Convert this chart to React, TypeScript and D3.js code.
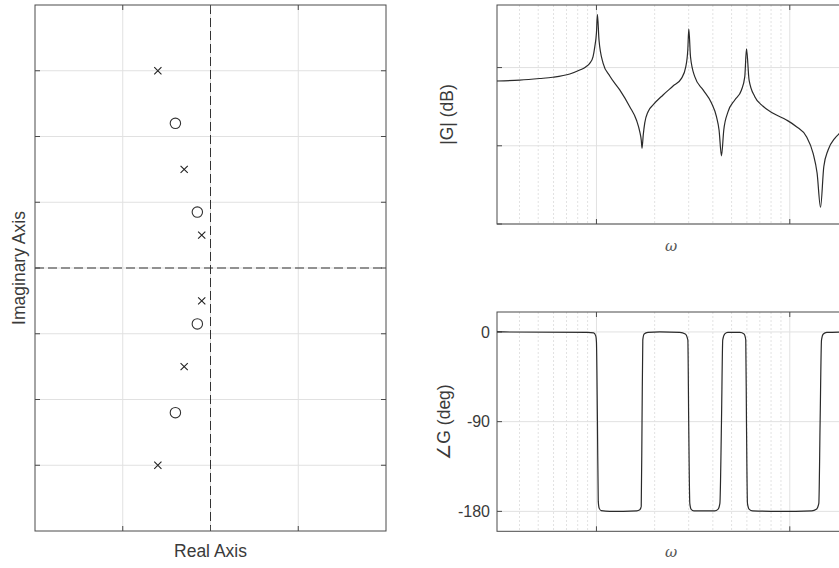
import React from 'react';
import * as d3 from 'd3';

// pole-zero map
const poleRe = [-0.6, -0.3, -0.1, -0.1, -0.3, -0.6];
const poleIm = [3.0, 1.5, 0.5, -0.5, -1.5, -3.0];
const zeroRe = [-0.4, -0.15, -0.15, -0.4];
const zeroIm = [2.2, 0.85, -0.85, -2.2];
const pzReTicks = [-1, 0, 1];
const pzImTicks = [-3, -2, -1, 0, 1, 2, 3];

// bode magnitude
const magOmega = [0.306, 0.401, 0.509, 0.594, 0.728, 0.82, 0.88, 0.923, 0.96, 0.98, 1.0, 1.012, 1.031, 1.082, 1.172, 1.32, 1.487, 1.61, 1.675, 1.705, 1.721, 1.746, 1.778, 1.849, 1.963, 2.211, 2.49, 2.753, 2.897, 2.968, 3.004, 3.065, 3.225, 3.561, 3.935, 4.176, 4.307, 4.433, 4.556, 4.795, 5.194, 5.626, 5.851, 5.971, 6.159, 6.592, 7.139, 8.196, 9.614, 10.83, 12.2, 13.2, 13.84, 14.42, 14.99, 15.78, 17.09, 17.93, 19.96];
const magDb = [-8.6, -8.0, -7.0, -6.2, -4.1, -1.6, 0.4, 2.7, 6.9, 13.1, 22.1, 34.0, 17.6, 2.9, -5.4, -14.3, -25.0, -33.5, -41.0, -46.3, -51.6, -43.1, -35.4, -28.2, -23.9, -17.5, -11.8, -6.9, 0.5, 11.2, 24.7, 6.9, -5.8, -14.3, -22.7, -31.4, -39.9, -56.4, -39.9, -28.2, -20.7, -14.3, -5.8, 11.9, -8.0, -18.6, -23.9, -29.2, -33.5, -37.8, -44.2, -54.8, -67.4, -89.3, -63.4, -52.7, -45.2, -42.5, -38.6];
const magTicks = [-100, -50, 0];

// bode phase
const phaseOmega = [0.306, 0.9, 0.968, 0.992, 1.0, 1.012, 1.022, 1.034, 1.059, 1.172, 1.616, 1.675, 1.705, 1.721, 1.737, 1.765, 1.846, 2.128, 2.7, 2.88, 2.97, 3.0, 3.04, 3.09, 3.19, 4.09, 4.25, 4.35, 4.433, 4.5, 4.61, 4.78, 5.52, 5.8, 5.92, 5.97, 6.04, 6.17, 6.42, 8.88, 13.0, 13.71, 14.13, 14.35, 14.59, 14.91, 15.53, 19.96];
const phaseDeg = [0, -0.5, -1, -4, -10, -90, -170, -177, -179.3, -180, -179.5, -178.5, -175, -90, -8, -2, -0.5, 0, -0.5, -2, -8, -90, -172, -178, -179.5, -179.5, -178, -172, -90, -8, -2, -0.5, -0.5, -2, -8, -90, -172, -178, -179.5, -180, -179.5, -178, -172, -90, -8, -2, -0.5, 0];
const phaseTicks = [-180, -90, 0];
const phaseTickLabels = ['-180', '-90', '0'];
const omegaMajor = [1, 10];

const FONT = '"Liberation Sans", Arial, Helvetica, sans-serif';
const AX = '#4a4a4a';
const TXT = '#3a3a3a';
const GRID = '#e1e1e1';
const MINOR = '#e2e2e2';

const App = () => {
    const W = 839;
    const H = 568;

    const pzX = d3.scaleLinear().domain([-2, 2]).range([35, 386]);
    const pzY = d3.scaleLinear().domain([-4, 4]).range([531, 5]);

    const wX = d3.scaleLog().domain([0.306, 20]).range([497, 848]);
    const magY = d3.scaleLinear().domain([-100, 40]).range([224, 5]);
    const phY = d3.scaleLinear().domain([-200, 20]).range([531.3, 312]);

    const minor: number[] = [];
    [0.1, 1, 10].forEach(dec => {
        for (let k = 2; k <= 9; k++) {
            const v = k * dec;
            if (v > 0.306 && v < 20) minor.push(v);
        }
    });

    const magLine = d3.line<number>()
        .x((d, i) => wX(magOmega[i]))
        .y(d => magY(d))
        .curve(d3.curveMonotoneX);
    const phLine = d3.line<number>()
        .x((d, i) => wX(phaseOmega[i]))
        .y(d => phY(d))
        .curve(d3.curveMonotoneX);

    const tick = 5;

    const bodeFrame = (yScale: d3.ScaleLinear<number, number>, yTicks: number[], top: number, bottom: number) => (
        <g>
            {minor.map(v => (
                <line key={'mn' + v} x1={wX(v)} x2={wX(v)} y1={top} y2={bottom}
                    stroke={MINOR} strokeWidth={1} strokeDasharray="2,2" />
            ))}
            {omegaMajor.map(v => (
                <line key={'mj' + v} x1={wX(v)} x2={wX(v)} y1={top} y2={bottom} stroke={GRID} strokeWidth={1} />
            ))}
            {yTicks.map(v => (
                <line key={'y' + v} x1={497} x2={848} y1={yScale(v)} y2={yScale(v)} stroke={GRID} strokeWidth={1} />
            ))}
            {omegaMajor.map(v => (
                <g key={'t' + v}>
                    <line x1={wX(v)} x2={wX(v)} y1={bottom} y2={bottom - tick} stroke={AX} />
                    <line x1={wX(v)} x2={wX(v)} y1={top} y2={top + tick} stroke={AX} />
                </g>
            ))}
            {yTicks.map(v => (
                <g key={'yt' + v}>
                    <line x1={497} x2={497 + tick} y1={yScale(v)} y2={yScale(v)} stroke={AX} />
                    <line x1={848} x2={848 - tick} y1={yScale(v)} y2={yScale(v)} stroke={AX} />
                </g>
            ))}
            <rect x={497} y={top} width={848 - 497} height={bottom - top} fill="none" stroke={AX} strokeWidth={1} />
        </g>
    );

    return (
        <svg width={W} height={H} style={{ position: 'absolute', left: 0, top: 0, background: '#fff' }}>
            <rect width={W} height={H} fill="#fff" />

            {/* pole-zero map */}
            <g>
                {pzReTicks.map(v => (
                    <line key={'gx' + v} x1={pzX(v)} x2={pzX(v)} y1={5} y2={531} stroke={GRID} />
                ))}
                {pzImTicks.map(v => (
                    <line key={'gy' + v} x1={35} x2={386} y1={pzY(v)} y2={pzY(v)} stroke={GRID} />
                ))}
                <line x1={pzX(0)} x2={pzX(0)} y1={5} y2={531} stroke="#333" strokeWidth={1} strokeDasharray="9,4" />
                <line x1={35} x2={386} y1={pzY(0)} y2={pzY(0)} stroke="#333" strokeWidth={1} strokeDasharray="9,4" />
                {pzReTicks.map(v => (
                    <g key={'tx' + v}>
                        <line x1={pzX(v)} x2={pzX(v)} y1={531} y2={531 - tick} stroke={AX} />
                        <line x1={pzX(v)} x2={pzX(v)} y1={5} y2={5 + tick} stroke={AX} />
                    </g>
                ))}
                {pzImTicks.map(v => (
                    <g key={'ty' + v}>
                        <line x1={35} x2={35 + tick} y1={pzY(v)} y2={pzY(v)} stroke={AX} />
                        <line x1={386} x2={386 - tick} y1={pzY(v)} y2={pzY(v)} stroke={AX} />
                    </g>
                ))}
                <rect x={35} y={5} width={351} height={526} fill="none" stroke={AX} />
                {poleRe.map((re, i) => {
                    const cx = pzX(re);
                    const cy = pzY(poleIm[i]);
                    const s = 3.6;
                    return (
                        <path key={'p' + i}
                            d={`M${cx - s},${cy - s}L${cx + s},${cy + s}M${cx - s},${cy + s}L${cx + s},${cy - s}`}
                            stroke="#222" strokeWidth={1.1} fill="none" />
                    );
                })}
                {zeroRe.map((re, i) => (
                    <circle key={'z' + i} cx={pzX(re)} cy={pzY(zeroIm[i])} r={5.2}
                        fill="none" stroke="#333" strokeWidth={1.1} />
                ))}
                <text x={210.5} y={557} textAnchor="middle" fontFamily={FONT} fontSize={17.5} fill={TXT}>Real Axis</text>
                <text transform="translate(25,268) rotate(-90)" textAnchor="middle" fontFamily={FONT} fontSize={17.5} fill={TXT}>Imaginary Axis</text>
            </g>

            {/* magnitude */}
            {bodeFrame(magY, magTicks, 5, 224)}
            <path d={magLine(magDb) || ''} fill="none" stroke="#2a2a2a" strokeWidth={1.2} />
            <text transform="translate(453,114.5) rotate(-90)" textAnchor="middle" fontFamily={FONT} fontSize={17.5} fill={TXT}>|G| (dB)</text>
            <text x={671} y={250.5} textAnchor="middle" fontFamily='"DejaVu Serif", serif' fontStyle="italic" fontSize={15} fill="#555">ω</text>

            {/* phase */}
            {bodeFrame(phY, phaseTicks, 312, 531.3)}
            <path d={phLine(phaseDeg) || ''} fill="none" stroke="#2a2a2a" strokeWidth={1.2} />
            {phaseTicks.map((v, i) => (
                <text key={'pl' + v} x={490} y={phY(v)} dy="0.35em" textAnchor="end" fontFamily={FONT} fontSize={16} fill={TXT}>
                    {phaseTickLabels[i]}
                </text>
            ))}
            <text transform="translate(450,422) rotate(-90)" textAnchor="middle" fontFamily={FONT} fontSize={17.5} fill={TXT}>∠G (deg)</text>
            <text x={671} y={557} textAnchor="middle" fontFamily='"DejaVu Serif", serif' fontStyle="italic" fontSize={15} fill="#555">ω</text>
        </svg>
    );
};

export default App;
